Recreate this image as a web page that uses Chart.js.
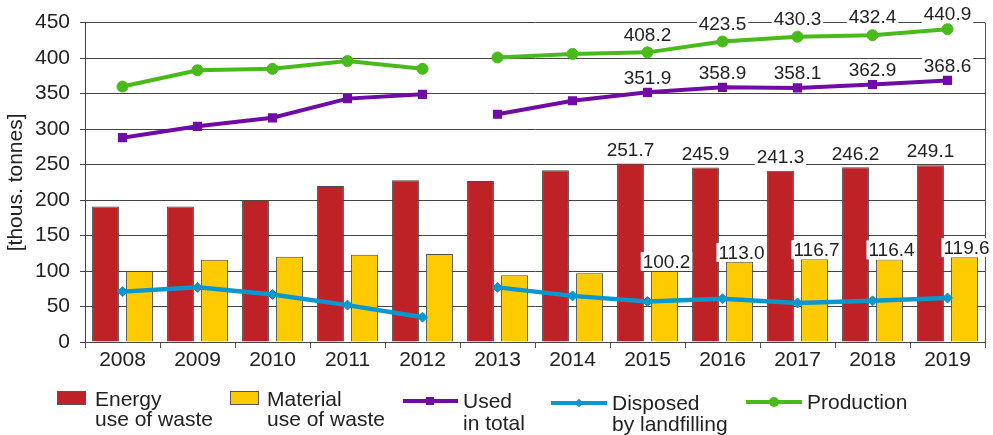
<!DOCTYPE html>
<html>
<head>
<meta charset="utf-8">
<script src="https://cdn.jsdelivr.net/npm/chart.js@4.4.1/dist/chart.umd.min.js"></script>
<style>
  html, body { margin: 0; padding: 0; background: #fff; }
  #wrap { position: relative; width: 993px; height: 435px; overflow: hidden; }
  canvas { position: absolute; left: 0; top: 0; }
  .lg { position: absolute; font-family: "Liberation Sans", Arial, sans-serif; font-size: 21px; color: #222; white-space: nowrap; }
  .box { position: absolute; box-sizing: border-box; border: 1px solid #555; }
  .ln { position: absolute; height: 4px; }
  .mk { position: absolute; }
</style>
</head>
<body>
<div id="wrap">
  <canvas id="c" width="993" height="435"></canvas>
  <!-- legend -->
  <div class="box" style="left:57px;top:391px;width:29px;height:14px;background:#BE2227"></div>
  <div class="lg" style="left:95px;top:389px;line-height:20px">Energy<br>use of waste</div>

  <div class="box" style="left:230px;top:391px;width:29px;height:14px;background:#FECB00"></div>
  <div class="lg" style="left:267px;top:389px;line-height:20px">Material<br>use of waste</div>

  <div class="ln" style="left:403px;top:399px;width:55px;background:#700CA6"></div>
  <div class="mk" style="left:426px;top:397px;width:8px;height:8px;background:#700CA6"></div>
  <div class="lg" style="left:463px;top:390px;line-height:22px">Used<br>in total</div>

  <div class="ln" style="left:551px;top:401px;width:56px;background:#0A96CE"></div>
  <div class="mk" style="left:576px;top:400px;width:6px;height:6px;background:#0A96CE;transform:rotate(45deg)"></div>
  <div class="lg" style="left:612px;top:392px;line-height:21px">Disposed<br>by landfilling</div>

  <div class="ln" style="left:746px;top:400px;width:56px;background:#48BB1A"></div>
  <div class="mk" style="left:769px;top:397px;width:10px;height:10px;border-radius:50%;background:#48BB1A"></div>
  <div class="lg" style="left:807px;top:391px;line-height:21px">Production</div>
</div>
<script>
const years = ['2008','2009','2010','2011','2012','2013','2014','2015','2016','2017','2018','2019'];
const energyUse   = [191, 191, 200, 220, 228, 227, 242, 251.7, 245.9, 241.3, 246.2, 249.1];
const materialUse = [100, 116, 120, 123, 124, 94, 97, 100.2, 113.0, 116.7, 116.4, 119.6];
const usedTotal   = [288, 304, 316, 343, 349, 321, 340, 351.9, 358.9, 358.1, 362.9, 368.6];
const landfilled  = [71, 77, 67, 52, 35, 77, 65, 57, 61, 55, 58, 62];
const production  = [360, 383, 385, 396, 385, 401, 406, 408.2, 423.5, 430.3, 432.4, 440.9];
const yTicks = [0, 50, 100, 150, 200, 250, 300, 350, 400, 450];
const LABEL_FROM = 7; // values shown from 2015 on
const GAP_AFTER = 4;  // no line between 2012 and 2013

const FONT = '"Liberation Sans", Arial, sans-serif';
const gapSeg = { borderColor: c => c.p0DataIndex === GAP_AFTER ? 'rgba(0,0,0,0)' : undefined };

const labelPlugin = {
  id: 'valueLabels',
  afterDatasetsDraw(chart) {
    const ctx = chart.ctx;
    ctx.save();
    ctx.font = '19px ' + FONT;
    ctx.textAlign = 'center';
    ctx.textBaseline = 'middle';
    chart.data.datasets.forEach((ds, di) => {
      if (ds.labelOffset === undefined) return;
      const meta = chart.getDatasetMeta(di);
      meta.data.forEach((el, i) => {
        if (i < LABEL_FROM) return;
        const txt = ds.data[i].toFixed(1);
        const p = el.getProps(['x', 'y'], true);
        const cy = Math.max(p.y - ds.labelOffset, 13.5);
        const cx = p.x + (ds.labelDx || 0);
        const w = ctx.measureText(txt).width;
        ctx.fillStyle = '#fff';
        ctx.fillRect(cx - w / 2 - 2, cy - 9.5, w + 4, 19);
        ctx.fillStyle = '#222';
        ctx.fillText(txt, cx, cy + 1);
      });
    });
    ctx.restore();
  }
};

const borderPlugin = {
  id: 'rightBorder',
  beforeDatasetsDraw(chart) {
    const { ctx, chartArea } = chart;
    ctx.save();
    ctx.strokeStyle = '#555';
    ctx.lineWidth = 1;
    ctx.beginPath();
    const x = Math.round(chartArea.right) + 0.5;
    ctx.moveTo(x, chartArea.top);
    ctx.lineTo(x, chartArea.bottom + 6);
    ctx.stroke();
    ctx.restore();
  }
};

new Chart(document.getElementById('c'), {
  data: {
    labels: years,
    datasets: [
      { type: 'line', label: 'Production', data: production, order: 0,
        borderColor: '#48BB1A', backgroundColor: '#48BB1A', borderWidth: 4,
        pointStyle: 'circle', pointRadius: 5.5, pointBorderWidth: 1, tension: 0,
        segment: gapSeg, labelOffset: 18 },
      { type: 'line', label: 'Used in total', data: usedTotal, order: 1,
        borderColor: '#700CA6', backgroundColor: '#700CA6', borderWidth: 4,
        pointStyle: 'rect', pointRadius: 6.5, pointBorderWidth: 0, tension: 0,
        segment: gapSeg, labelOffset: 15 },
      { type: 'line', label: 'Disposed by landfilling', data: landfilled, order: 2,
        borderColor: '#0A96CE', backgroundColor: '#0A96CE', borderWidth: 4.5,
        pointStyle: 'rectRot', pointRadius: 5, pointBorderWidth: 1, tension: 0,
        segment: gapSeg },
      { type: 'bar', label: 'Energy use of waste', data: energyUse, order: 10,
        backgroundColor: '#BE2227', borderColor: '#4a4a4a', borderWidth: 1,
        categoryPercentage: 0.907, barPercentage: 0.79, labelOffset: 14 },
      { type: 'bar', label: 'Material use of waste', data: materialUse, order: 11,
        backgroundColor: '#FECB00', borderColor: '#4a4a4a', borderWidth: 1,
        categoryPercentage: 0.907, barPercentage: 0.79, labelOffset: 9.5, labelDx: 2 }
    ]
  },
  options: {
    responsive: false,
    animation: false,
    events: [],
    layout: { padding: { left: 0, right: 8, top: 22.7, bottom: 0 } },
    plugins: { legend: { display: false }, tooltip: { enabled: false } },
    scales: {
      x: {
        offset: true,
        grid: { offset: true, drawOnChartArea: false, drawTicks: true, tickLength: 6, color: '#555' },
        border: { display: false },
        ticks: { color: '#222', font: { family: FONT, size: 21 }, padding: 0, maxRotation: 0, autoSkip: false },
        afterFit: s => { s.height = 93; }
      },
      y: {
        min: 0, max: 450,
        afterBuildTicks: s => { s.ticks = yTicks.map(v => ({ value: v })); },
        grid: { color: '#444', lineWidth: 1, tickLength: 5 },
        border: { display: true, color: '#444' },
        ticks: { color: '#222', font: { family: FONT, size: 21 }, padding: 10 },
        title: { display: true, text: '[thous. tonnes]', color: '#222', font: { family: FONT, size: 21 }, padding: { top: 4, bottom: 4 } },
        afterFit: s => { s.width = 85; }
      }
    }
  },
  plugins: [labelPlugin, borderPlugin]
});
</script>
</body>
</html>
